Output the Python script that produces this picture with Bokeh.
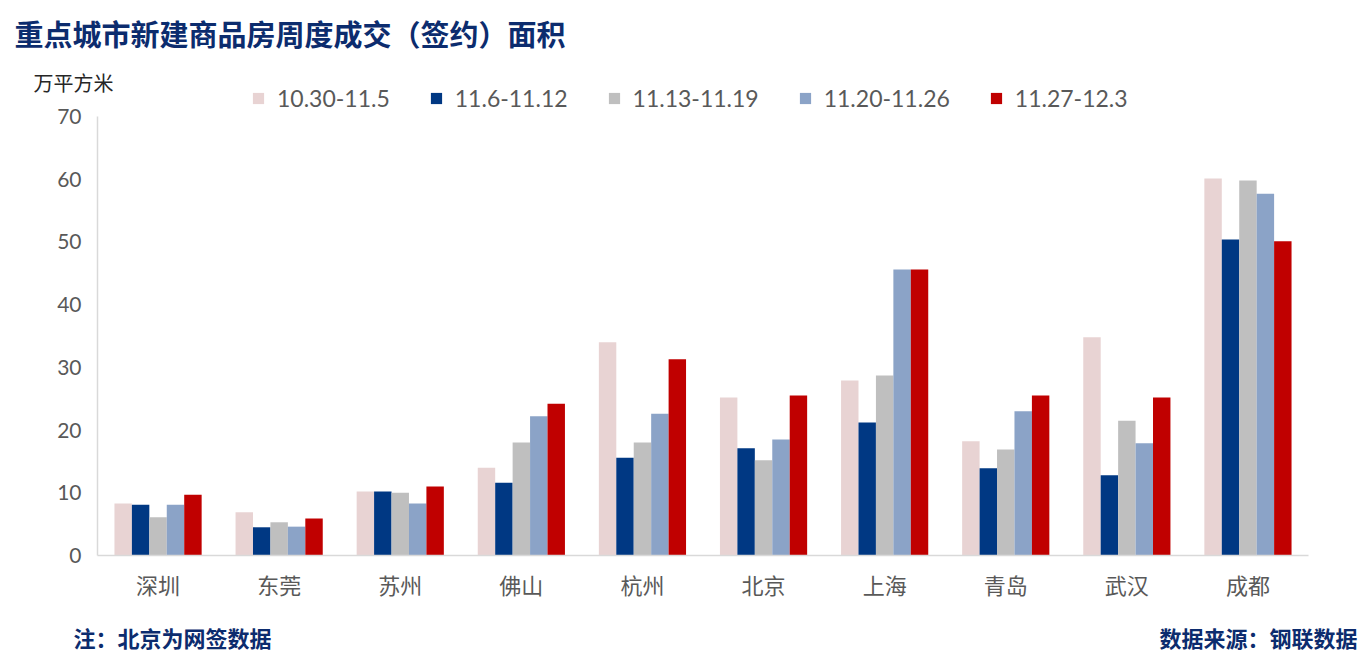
from bokeh.plotting import figure
from bokeh.models import Range1d, Label, Legend, LegendItem, ColumnDataSource, FixedTicker
from bokeh.transform import dodge
from bokeh.embed import file_html
from bokeh.resources import INLINE

cities = ["深圳", "东莞", "苏州", "佛山", "杭州", "北京", "上海", "青岛", "武汉", "成都"]
weeks = ["10.30-11.5", "11.6-11.12", "11.13-11.19", "11.20-11.26", "11.27-12.3"]
w1 = [8.3, 6.9, 10.2, 14.0, 34.0, 25.2, 27.9, 18.2, 34.8, 60.1]
w2 = [8.1, 4.5, 10.2, 11.6, 15.6, 17.1, 21.2, 13.9, 12.8, 50.4]
w3 = [6.1, 5.3, 10.0, 18.0, 18.0, 15.2, 28.7, 16.9, 21.5, 59.8]
w4 = [8.1, 4.6, 8.3, 22.2, 22.6, 18.5, 45.6, 23.0, 17.9, 57.7]
w5 = [9.7, 5.9, 11.0, 24.2, 31.3, 25.5, 45.6, 25.5, 25.2, 50.1]
y_ticks = [0, 10, 20, 30, 40, 50, 60, 70]
colors = ["#E8D3D3", "#003883", "#BFBFBF", "#8BA3C7", "#C00000"]

W, H = 1372, 662
pos = list(range(1, len(cities) + 1))
src = ColumnDataSource(dict(pos=pos, city=cities, w1=w1, w2=w2, w3=w3, w4=w4, w5=w5))

# frame covers the whole canvas; axes are pinned inside with fixed_location
left_px, right_px, top_px, bottom_px = 97, 1308, 116, 555
xs = (right_px - left_px) / len(cities)
ys = (bottom_px - top_px) / 70.0
x_range = Range1d(0.5 - left_px / xs, len(cities) + 0.5 + (W - right_px) / xs)
y_range = Range1d(-(H - bottom_px) / ys, 70 + top_px / ys)

p = figure(width=W, height=H, x_range=x_range, y_range=y_range,
           output_backend="svg", toolbar_location=None,
           min_border=0, min_border_left=0, min_border_right=0,
           min_border_top=0, min_border_bottom=0)
p.outline_line_color = None
p.xgrid.grid_line_color = None
p.ygrid.grid_line_color = None

bw = 0.144
offsets = [-2 * bw, -bw, 0, bw, 2 * bw]
items = []
for i, key in enumerate(["w1", "w2", "w3", "w4", "w5"]):
    r = p.vbar(x=dodge("pos", offsets[i]), top=key, width=bw,
               source=src, fill_color=colors[i], line_color=None)
    items.append(LegendItem(label=weeks[i], renderers=[r]))

legend = Legend(items=items, orientation="horizontal", location=(251, H - 112),
                glyph_width=14, glyph_height=14, label_standoff=12, spacing=39,
                padding=0, margin=0, border_line_color=None, background_fill_alpha=0,
                label_text_font="Lato", label_text_font_size="23px", label_text_color="#595959")
p.add_layout(legend, "center")

p.yaxis.ticker = FixedTicker(ticks=y_ticks)
p.xaxis.ticker = FixedTicker(ticks=pos)
p.xaxis.major_label_overrides = {k: c for k, c in zip(pos, cities)}
p.yaxis.fixed_location = 0.5
p.xaxis.fixed_location = 0
p.yaxis.bounds = (0, 70)
p.xaxis.bounds = (0.5, len(cities) + 0.5)
for ax in (p.xaxis[0], p.yaxis[0]):
    ax.axis_line_color = "#D9D9D9"
    ax.axis_line_width = 1.5
    ax.major_tick_line_color = None
    ax.minor_tick_line_color = None
    ax.major_tick_out = 0
    ax.major_tick_in = 0
    ax.minor_tick_out = 0
    ax.major_label_text_color = "#595959"
p.yaxis.major_label_text_font = "Lato"
p.yaxis.major_label_text_font_size = "21px"
p.yaxis.major_label_standoff = 16
p.xaxis.major_label_text_font = "Noto Sans CJK SC"
p.xaxis.major_label_text_font_size = "22px"
p.xaxis.major_label_standoff = 12

navy = "#0C2C6E"
p.add_layout(Label(x=14, y=H - 32, x_units="screen", y_units="screen",
                   text="重点城市新建商品房周度成交（签约）面积", text_font="Noto Sans CJK SC",
                   text_font_style="bold", text_font_size="29px", text_color=navy,
                   text_baseline="middle", text_align="left"))
p.add_layout(Label(x=33, y=H - 82, x_units="screen", y_units="screen",
                   text="万平方米", text_font="Noto Sans CJK SC",
                   text_font_size="20px", text_color="#262626",
                   text_baseline="middle", text_align="left"))
p.add_layout(Label(x=73, y=H - 636, x_units="screen", y_units="screen",
                   text="注：北京为网签数据", text_font="Noto Sans CJK SC",
                   text_font_style="bold", text_font_size="22px", text_color=navy,
                   text_baseline="middle", text_align="left"))
p.add_layout(Label(x=1357, y=H - 636, x_units="screen", y_units="screen",
                   text="数据来源：钢联数据", text_font="Noto Sans CJK SC",
                   text_font_style="bold", text_font_size="22px", text_color=navy,
                   text_baseline="middle", text_align="right"))

open("out.html", "w").write(file_html(p, INLINE))
